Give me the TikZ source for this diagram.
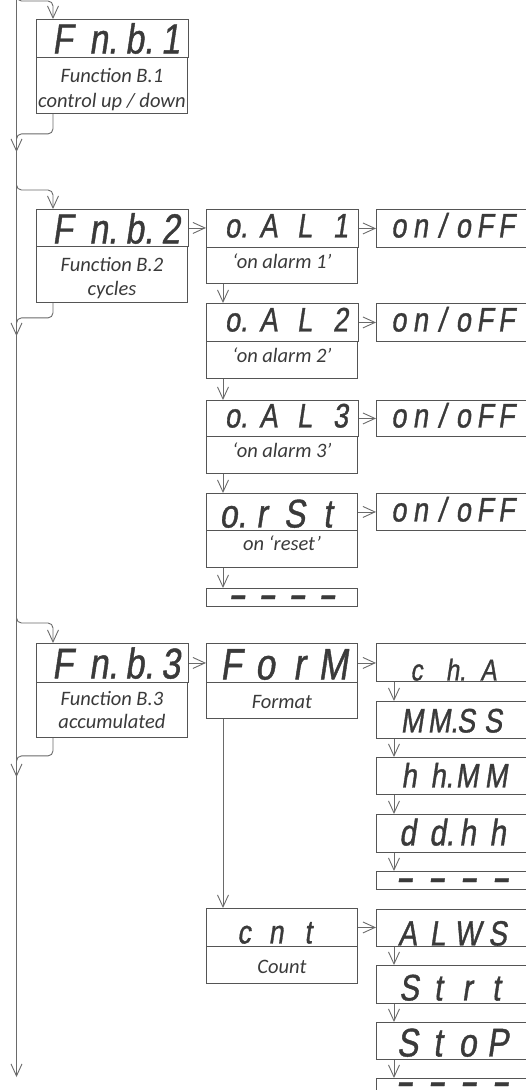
\documentclass[tikz,border=0pt]{standalone}
\usepackage{fontspec}
\setmainfont{Carlito}
\newfontfamily\segfont{Liberation Sans}[FakeStretch=0.8, FakeSlant=0.15, FakeBold=1]
\newfontfamily\descfont{Carlito}
\usetikzlibrary{arrows.meta}
\definecolor{linec}{HTML}{6A6A6A}
\definecolor{boxc}{HTML}{555555}
\definecolor{txtc}{HTML}{3A3A3A}
\newcommand\cl[2]{\makebox[#1pt][c]{#2}}
\newcommand\dt{\rlap{.}}
\newcommand\sg[1]{\segfont\fontsize{#1}{#1}\selectfont}
\tikzset{
  box/.style={draw=boxc, line width=0.9pt, inner sep=0pt, anchor=north west, text=txtc},
  L/.style={box, minimum width=151pt},
  R/.style={box, minimum width=152pt},
  dsp/.style n args={3}{text height=#1pt, text depth=#2pt, font=\sg{#3}},
  dsc/.style n args={3}{text height=#1pt, text depth=#2pt, font=\descfont\itshape\fontsize{20.5}{#3}\selectfont},
  conn/.style={draw=linec, line width=0.9pt},
  arr/.style={-{Straight Barb[length=12pt,width=11pt]}}
}
\begin{document}
\begin{tikzpicture}[x=1pt,y=-1pt]
\useasboundingbox (0,0) rectangle (526,1090);
\clip (0,0) rectangle (526,1090);
% left column
\node[L, dsp={34}{4}{42}] (fnb1) at (36,19) {\hspace*{8pt}\cl{36}{F}\cl{36}{n\dt}\cl{36}{b\dt}\cl{36}{1}};
\node[L, dsc={25}{31}{25}] (fnb1d) at (36,57) {\parbox[t]{151pt}{\centering Function B.1\\control up / down}};
\node[L, dsp={34}{3}{42}] (fnb2) at (36,209) {\hspace*{8pt}\cl{36}{F}\cl{36}{n\dt}\cl{36}{b\dt}\cl{36}{2}};
\node[L, dsc={25}{31}{24}] (fnb2d) at (36,246) {\parbox[t]{151pt}{\centering Function B.2\\cycles}};
\node[L, dsp={35}{4}{43}] (fnb3) at (36,643) {\hspace*{8pt}\cl{36}{F}\cl{36}{n\dt}\cl{36}{b\dt}\cl{36}{3}};
\node[L, dsc={23}{32}{23}] (fnb3d) at (36,682) {\parbox[t]{151pt}{\centering Function B.3\\accumulated}};
% middle column
\node[L, dsp={28}{10}{34}] (oal1) at (206,209) {\hspace*{8pt}\cl{36}{o\dt}\cl{36}{A}\cl{36}{L}\cl{36}{1}};
\node[L, dsc={21}{15}{25}] (oal1d) at (206,247) {‘on alarm 1’};
\node[L, dsp={28}{10}{34}] (oal2) at (206,303) {\hspace*{8pt}\cl{36}{o\dt}\cl{36}{A}\cl{36}{L}\cl{36}{2}};
\node[L, dsc={21}{16}{25}] (oal2d) at (206,341) {‘on alarm 2’};
\node[L, dsp={27}{9}{34}] (oal3) at (206,400) {\hspace*{8pt}\cl{36}{o\dt}\cl{36}{A}\cl{36}{L}\cl{36}{3}};
\node[L, dsc={21}{16}{25}] (oal3d) at (206,436) {‘on alarm 3’};
\node[L, dsp={34}{3}{40}] (orst) at (206,493) {\hspace*{-8pt}\cl{33}{o\dt}\cl{33}{r}\cl{33}{S}\cl{33}{t}};
\node[L, dsc={20}{17}{25}] (orstd) at (206,530) {on ‘reset’};
\node[L, dsp={18}{0}{34}] (dsh1) at (206,588) {\bfseries\cl{30}{–}\cl{30}{–}\cl{30}{–}\cl{30}{–}};
\node[L, dsp={36}{3}{44}] (form) at (206,643) {\cl{34}{F}\cl{34}{o}\cl{34}{r}\cl{34}{M}};
\node[L, dsc={26}{10}{25}] (formd) at (206,682) {Format};
\node[L, dsp={35}{3}{33}] (cnt) at (206,908) {\hspace*{-12pt}\cl{32}{c}\cl{32}{n}\cl{32}{t}};
\node[L, dsc={27}{10}{25}] (cntd) at (206,946) {Count};
% right column
\node[R, dsp={28}{10}{34}] (onoff1) at (376,209) {\cl{21.5}{o}\cl{21.5}{n}\cl{21.5}{/}\cl{21.5}{o}\cl{21.5}{F}\cl{21.5}{F}};
\node[R, dsp={28}{10}{34}] (onoff2) at (376,303) {\cl{21.5}{o}\cl{21.5}{n}\cl{21.5}{/}\cl{21.5}{o}\cl{21.5}{F}\cl{21.5}{F}};
\node[R, dsp={27}{9}{34}] (onoff3) at (376,400) {\cl{21.5}{o}\cl{21.5}{n}\cl{21.5}{/}\cl{21.5}{o}\cl{21.5}{F}\cl{21.5}{F}};
\node[R, dsp={28}{9}{34}] (onoff4) at (376,493) {\cl{21.5}{o}\cl{21.5}{n}\cl{21.5}{/}\cl{21.5}{o}\cl{21.5}{F}\cl{21.5}{F}};
\node[R, dsp={37}{1}{30}] (cha) at (376,643) {\cl{36}{c}\cl{36}{h\dt}\cl{36}{A}};
\node[R, dsp={31}{6}{34}] (mmss) at (376,701) {\cl{27}{M}\cl{27}{M\dt}\cl{27}{S}\cl{27}{S}};
\node[R, dsp={30}{7}{34}] (hhmm) at (376,757) {\cl{29}{h}\cl{29}{h\dt}\cl{29}{M}\cl{29}{M}};
\node[R, dsp={31}{7}{37}] (ddhh) at (376,814) {\cl{30}{d}\cl{30}{d\dt}\cl{30}{h}\cl{30}{h}};
\node[R, dsp={18}{0}{34}] (dsh2) at (376,871) {\bfseries\cl{32}{–}\cl{32}{–}\cl{32}{–}\cl{32}{–}};
\node[R, dsp={36}{1}{35}] (alws) at (376,909) {\cl{30}{A}\cl{30}{L}\cl{30}{W}\cl{30}{S}};
\node[R, dsp={35}{3}{37}] (strt) at (376,965) {\cl{29}{S}\cl{29}{t}\cl{29}{r}\cl{29}{t}};
\node[R, dsp={34}{3}{40}] (stop) at (376,1022) {\cl{30}{S}\cl{30}{t}\cl{30}{o}\cl{30}{P}};
\node[R, dsp={15}{3}{34}] (dsh3) at (376,1078) {\bfseries\cl{32}{–}\cl{32}{–}\cl{32}{–}\cl{32}{–}};
% main line
\coordinate (mtop) at (16.5,-10);
\coordinate (mbot) at (16.5,1077);
\draw[conn,arr] (mtop) -- (mbot);
\coordinate (b1) at (16.5,-9);
\coordinate (r1) at (16.5,152);
\coordinate (b2) at (16.5,180);
\coordinate (r2) at (16.5,336);
\coordinate (b3) at (16.5,613);
\coordinate (r3) at (16.5,777);
\draw[conn,arr,rounded corners=5pt] (b1) -- ++(0,10) -| ([xshift=17pt]fnb1.north west);
\draw[conn,arr,rounded corners=5pt] ([xshift=17pt]fnb1d.south west) -- ++(0,20) -| (r1);
\draw[conn,arr,rounded corners=5pt] (b2) -- ++(0,10) -| ([xshift=17pt]fnb2.north west);
\draw[conn,arr,rounded corners=5pt] ([xshift=17pt]fnb2d.south west) -- ++(0,15) -| (r2);
\draw[conn,arr,rounded corners=5pt] (b3) -- ++(0,10) -| ([xshift=17pt]fnb3.north west);
\draw[conn,arr,rounded corners=5pt] ([xshift=17pt]fnb3d.south west) -- ++(0,18) -| (r3);
% horizontal arrows
\draw[conn,arr] (fnb2.east) -- (fnb2.east -| oal1.west);
\draw[conn,arr] (oal1.east) -- (oal1.east -| onoff1.west);
\draw[conn,arr] (oal2.east) -- (oal2.east -| onoff2.west);
\draw[conn,arr] (oal3.east) -- (oal3.east -| onoff3.west);
\draw[conn,arr] (orst.east) -- (orst.east -| onoff4.west);
\draw[conn,arr] (fnb3.east) -- (fnb3.east -| form.west);
\draw[conn,arr] (form.east) -- (form.east -| cha.west);
\draw[conn,arr] (cnt.east) -- (cnt.east -| alws.west);
% vertical arrows middle
\draw[conn,arr] ([xshift=17pt]oal1d.south west) -- ([xshift=17pt]oal2.north west);
\draw[conn,arr] ([xshift=17pt]oal2d.south west) -- ([xshift=17pt]oal3.north west);
\draw[conn,arr] ([xshift=17pt]oal3d.south west) -- ([xshift=17pt]orst.north west);
\draw[conn,arr] ([xshift=17pt]orstd.south west) -- ([xshift=17pt]dsh1.north west);
\draw[conn,arr] ([xshift=17pt]formd.south west) -- ([xshift=17pt]cnt.north west);
% vertical arrows right
\draw[conn,arr] ([xshift=18pt]cha.south west) -- ([xshift=18pt]mmss.north west);
\draw[conn,arr] ([xshift=18pt]mmss.south west) -- ([xshift=18pt]hhmm.north west);
\draw[conn,arr] ([xshift=18pt]hhmm.south west) -- ([xshift=18pt]ddhh.north west);
\draw[conn,arr] ([xshift=18pt]ddhh.south west) -- ([xshift=18pt]dsh2.north west);
\draw[conn,arr] ([xshift=18pt]alws.south west) -- ([xshift=18pt]strt.north west);
\draw[conn,arr] ([xshift=18pt]strt.south west) -- ([xshift=18pt]stop.north west);
\draw[conn,arr] ([xshift=18pt]stop.south west) -- ([xshift=18pt]dsh3.north west);
\end{tikzpicture}
\end{document}
